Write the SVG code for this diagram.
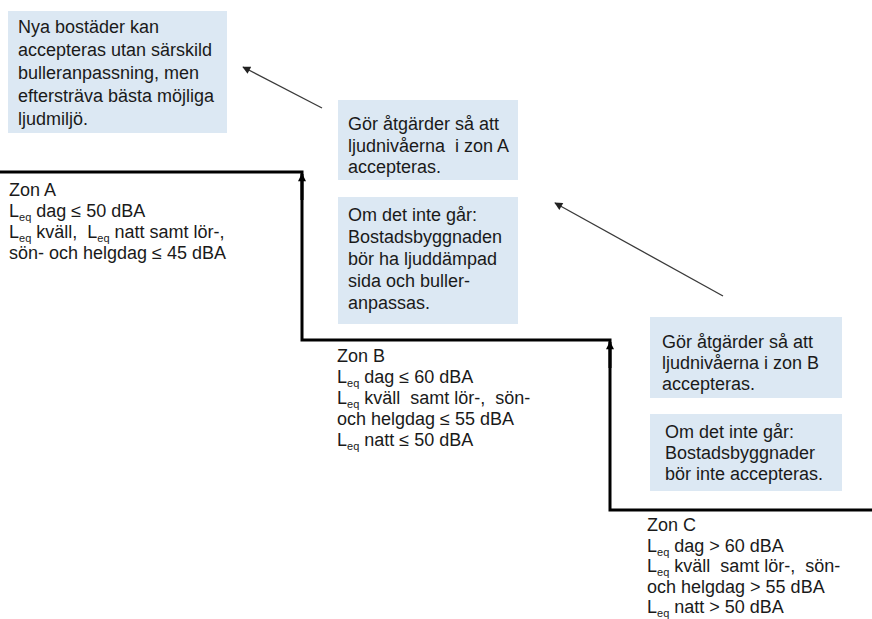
<svg xmlns="http://www.w3.org/2000/svg" width="872" height="619" viewBox="0 0 872 619">
  <defs>
    <style>
      .box { fill: #dce8f3; }
      .t { font-family: "Liberation Sans", Arial, sans-serif; font-size: 18px; fill: #1a1a1a; }
      .sub { font-size: 11px; }
      .step { fill: none; stroke: #000; stroke-width: 3; stroke-linejoin: miter; }
      .up { fill: none; stroke: #000; stroke-width: 3; }
      .diag { fill: none; stroke: #3a3a3a; stroke-width: 1.3; }
    </style>
    <marker id="ahUp" viewBox="0 0 10 10" refX="9" refY="5" markerWidth="9" markerHeight="8" markerUnits="userSpaceOnUse" orient="auto">
      <path d="M0,0 L10,5 L0,10 Z" fill="#000"/>
    </marker>
    <marker id="ahDiag" viewBox="0 0 10 10" refX="9" refY="5" markerWidth="10" markerHeight="8" markerUnits="userSpaceOnUse" orient="auto">
      <path d="M0,0 L10,5 L0,10 Z" fill="#222"/>
    </marker>
  </defs>
  <rect width="872" height="619" fill="#ffffff"/>

  <g id="connectors">
    <path class="step" d="M0,172 H302 V340 H610 V510 H872"/>
    <path class="up" d="M302,200 V174" marker-end="url(#ahUp)"/>
    <path class="up" d="M610,368 V342" marker-end="url(#ahUp)"/>
    <path class="diag" d="M322,108 L243,67" marker-end="url(#ahDiag)"/>
    <path class="diag" d="M723,296 L555,203" marker-end="url(#ahDiag)"/>
  </g>

  <g id="node-bostader">
    <rect class="box" x="8" y="11" width="219" height="122"/>
    <text class="t" x="18" y="33">Nya bostäder kan</text>
    <text class="t" x="18" y="56">accepteras utan särskild</text>
    <text class="t" x="18" y="79">bulleranpassning, men</text>
    <text class="t" x="18" y="102">eftersträva bästa möjliga</text>
    <text class="t" x="18" y="125">ljudmiljö.</text>
  </g>

  <g id="node-zon-a">
    <text class="t" x="9" y="196">Zon A</text>
    <text class="t" x="9" y="217">L<tspan class="sub" dy="4">eq</tspan><tspan dy="-4"> dag ≤ 50 dBA</tspan></text>
    <text class="t" x="9" y="238" xml:space="preserve">L<tspan class="sub" dy="4">eq</tspan><tspan dy="-4"> kväll,  L</tspan><tspan class="sub" dy="4">eq</tspan><tspan dy="-4"> natt samt lör-,</tspan></text>
    <text class="t" x="9" y="259">sön- och helgdag ≤ 45 dBA</text>
  </g>

  <g id="node-atgard-a">
    <rect class="box" x="338" y="100" width="180" height="80"/>
    <text class="t" x="348" y="130">Gör åtgärder så att</text>
    <text class="t" x="348" y="152" xml:space="preserve">ljudnivåerna  i zon A</text>
    <text class="t" x="348" y="173">accepteras.</text>
  </g>

  <g id="node-om-a">
    <rect class="box" x="338" y="197" width="180" height="127"/>
    <text class="t" x="348" y="221">Om det inte går:</text>
    <text class="t" x="348" y="243">Bostadsbyggnaden</text>
    <text class="t" x="348" y="265">bör ha ljuddämpad</text>
    <text class="t" x="348" y="287">sida och buller-</text>
    <text class="t" x="348" y="309">anpassas.</text>
  </g>

  <g id="node-zon-b">
    <text class="t" x="337" y="362">Zon B</text>
    <text class="t" x="337" y="383">L<tspan class="sub" dy="4">eq</tspan><tspan dy="-4"> dag ≤ 60 dBA</tspan></text>
    <text class="t" x="337" y="404" xml:space="preserve">L<tspan class="sub" dy="4">eq</tspan><tspan dy="-4"> kväll  samt lör-,  sön-</tspan></text>
    <text class="t" x="337" y="425">och helgdag ≤ 55 dBA</text>
    <text class="t" x="337" y="446">L<tspan class="sub" dy="4">eq</tspan><tspan dy="-4"> natt ≤ 50 dBA</tspan></text>
  </g>

  <g id="node-atgard-b">
    <rect class="box" x="650" y="317" width="192" height="81"/>
    <text class="t" x="662" y="348">Gör åtgärder så att</text>
    <text class="t" x="662" y="369">ljudnivåerna i zon B</text>
    <text class="t" x="662" y="390">accepteras.</text>
  </g>

  <g id="node-om-b">
    <rect class="box" x="650" y="414" width="192" height="77"/>
    <text class="t" x="665" y="438">Om det inte går:</text>
    <text class="t" x="665" y="459">Bostadsbyggnader</text>
    <text class="t" x="665" y="480">bör inte accepteras.</text>
  </g>

  <g id="node-zon-c">
    <text class="t" x="647" y="531">Zon C</text>
    <text class="t" x="647" y="552">L<tspan class="sub" dy="4">eq</tspan><tspan dy="-4"> dag &gt; 60 dBA</tspan></text>
    <text class="t" x="647" y="572" xml:space="preserve">L<tspan class="sub" dy="4">eq</tspan><tspan dy="-4"> kväll  samt lör-,  sön-</tspan></text>
    <text class="t" x="647" y="593">och helgdag &gt; 55 dBA</text>
    <text class="t" x="647" y="613">L<tspan class="sub" dy="4">eq</tspan><tspan dy="-4"> natt &gt; 50 dBA</tspan></text>
  </g>
</svg>
